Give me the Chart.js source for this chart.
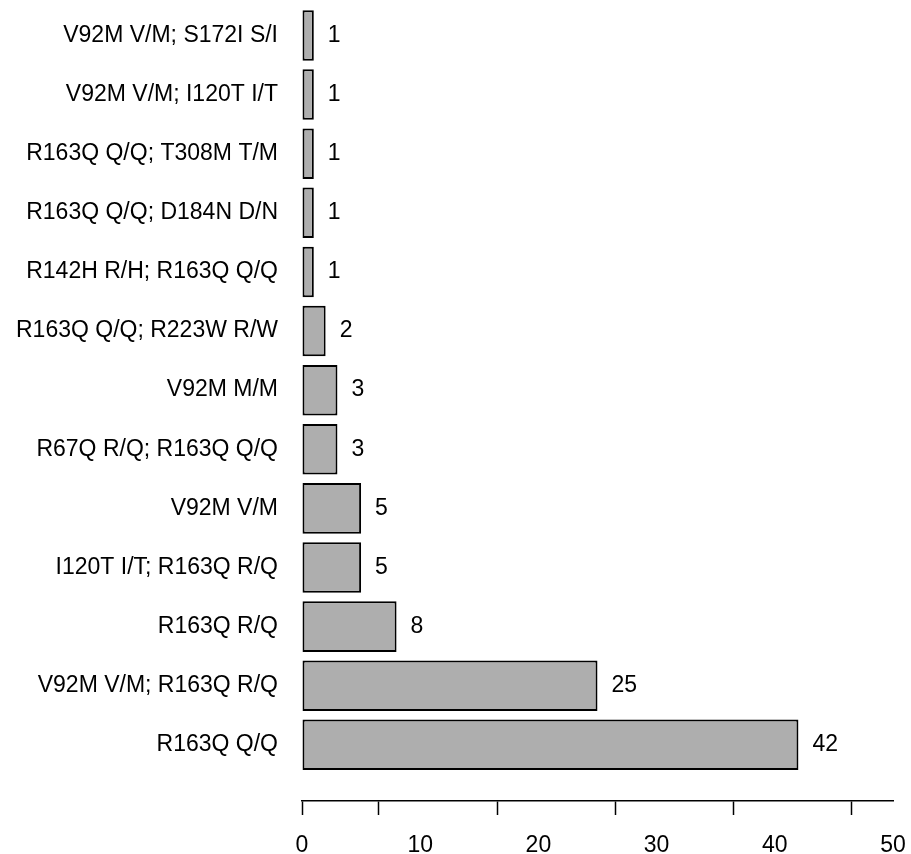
<!DOCTYPE html>
<html>
<head>
<meta charset="utf-8">
<script src="https://cdn.jsdelivr.net/npm/chart.js@4/dist/chart.umd.min.js"></script>
<style>
  html, body { margin: 0; padding: 0; background: #fff; }
  #wrap { width: 911px; height: 854px; }
</style>
</head>
<body>
<div id="wrap"><canvas id="grafico"></canvas></div>
<script>
// categorias de cima para baixo
const categorias = [
  'V92M V/M; S172I S/I',
  'V92M V/M; I120T I/T',
  'R163Q Q/Q; T308M T/M',
  'R163Q Q/Q; D184N D/N',
  'R142H R/H; R163Q Q/Q',
  'R163Q Q/Q; R223W R/W',
  'V92M M/M',
  'R67Q R/Q; R163Q Q/Q',
  'V92M V/M',
  'I120T I/T; R163Q R/Q',
  'R163Q R/Q',
  'V92M V/M; R163Q R/Q',
  'R163Q Q/Q'
];
const contagens = [1, 1, 1, 1, 1, 2, 3, 3, 5, 5, 8, 25, 42];

// eixo x: rótulos e marcas (as marcas não coincidem com os rótulos na figura)
const rotulosX = [0, 10, 20, 30, 40, 50];
const marcasX = [0, 6.5, 16.5, 26.5, 36.5, 46.5];

const fonte = { family: "'Liberation Sans', Arial, sans-serif", size: 23 };

// escreve o valor à direita de cada barra
const valoresPlugin = {
  id: 'valores',
  afterDatasetsDraw(chart) {
    const ctx = chart.ctx;
    const meta = chart.getDatasetMeta(0);
    ctx.save();
    ctx.font = `${fonte.size}px ${fonte.family}`;
    ctx.fillStyle = '#000';
    ctx.textAlign = 'left';
    ctx.textBaseline = 'middle';
    meta.data.forEach((bar, i) => {
      ctx.fillText(String(contagens[i]), bar.x + 14, bar.y);
    });
    ctx.restore();
  }
};

const ctx = document.getElementById('grafico').getContext('2d');
new Chart(ctx, {
  type: 'bar',
  data: {
    datasets: [{
      data: contagens.map((v, i) => ({ x: v, y: i })),
      backgroundColor: '#aeaeae',
      borderColor: '#000',
      borderWidth: 2,
      borderSkipped: false,
      categoryPercentage: 1,
      barPercentage: 0.855
    }]
  },
  options: {
    indexAxis: 'y',
    responsive: true,
    maintainAspectRatio: false,
    animation: false,
    layout: { padding: { left: 0, right: 18, top: 0, bottom: 0 } },
    plugins: {
      legend: { display: false },
      tooltip: { enabled: false }
    },
    scales: {
      x: {
        type: 'linear',
        min: 0,
        max: 50,
        afterBuildTicks(scale) {
          const todos = [...new Set([...rotulosX, ...marcasX])].sort((a, b) => a - b);
          scale.ticks = todos.map(v => ({ value: v }));
        },
        afterFit(scale) {
          scale.height = 53;
          scale.paddingLeft = 0;
          scale.paddingRight = 0;
        },
        border: { display: true, color: '#000', width: 1.5 },
        grid: {
          display: true,
          drawOnChartArea: false,
          drawTicks: true,
          tickLength: 14,
          tickWidth: 1.5,
          tickColor: c => marcasX.includes(c.tick.value) ? '#000' : 'rgba(0,0,0,0)'
        },
        ticks: {
          autoSkip: false,
          maxRotation: 0,
          padding: 17,
          color: '#000',
          font: fonte,
          callback: v => rotulosX.includes(v) ? String(v) : ''
        }
      },
      y: {
        type: 'linear',
        reverse: true,
        offset: false,
        min: -0.6,
        max: 12.95,
        afterBuildTicks(scale) {
          scale.ticks = categorias.map((_, i) => ({ value: i }));
        },
        afterFit(scale) {
          scale.width = 302;
          scale.paddingTop = 0;
          scale.paddingBottom = 0;
        },
        border: { display: false },
        grid: { display: false, drawTicks: false, tickLength: 0 },
        ticks: {
          autoSkip: false,
          padding: 24,
          color: '#000',
          font: fonte,
          callback: v => categorias[v] ?? ''
        }
      }
    }
  },
  plugins: [valoresPlugin]
});
</script>
</body>
</html>
